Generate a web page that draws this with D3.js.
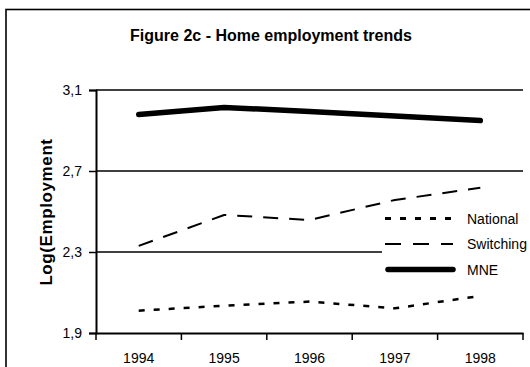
<!DOCTYPE html>
<html>
<head>
<meta charset="utf-8">
<script src="https://cdn.jsdelivr.net/npm/d3@7"></script>
<style>
  body { margin: 0; background: #fff; }
  svg { display: block; font-family: "Liberation Sans", Arial, sans-serif; }
</style>
</head>
<body>
<svg width="530" height="367"></svg>
<script>
// data
const years = ["1994", "1995", "1996", "1997", "1998"];
const national = [2.010, 2.035, 2.055, 2.022, 2.083];
const switching = [2.330, 2.483, 2.458, 2.557, 2.617];
const mne = [2.979, 3.014, 2.994, 2.972, 2.949];
const yTicks = [1.9, 2.3, 2.7, 3.1];
const seriesNames = ["National", "Switching", "MNE"];

const svg = d3.select("svg");
const margin = { top: 90, right: 7, bottom: 34, left: 96 };
const width = 530, height = 367;

// outer frame (runs off the right and bottom edge)
svg.append("rect")
  .attr("x", 6).attr("y", 9.5)
  .attr("width", 560).attr("height", 420)
  .attr("fill", "#fff")
  .attr("stroke", "#000")
  .attr("stroke-width", 1.6);

// title
svg.append("text")
  .attr("x", 271).attr("y", 41)
  .attr("text-anchor", "middle")
  .attr("font-size", 16)
  .attr("font-weight", "bold")
  .text("Figure 2c - Home employment trends");

// scales
const x = d3.scaleBand()
  .domain(years)
  .range([margin.left, width - margin.right]);

const y = d3.scaleLinear()
  .domain([1.9, 3.1])
  .range([height - margin.bottom, margin.top]);

const fmt = d => d3.format(".1f")(d).replace(".", ",");

// gridlines
svg.append("g")
  .selectAll("line")
  .data(yTicks.filter(d => d > 1.9))
  .join("line")
  .attr("x1", x.range()[0]).attr("x2", x.range()[1])
  .attr("y1", d => y(d)).attr("y2", d => y(d))
  .attr("stroke", "#000")
  .attr("stroke-width", 1.3);

// y axis
const yAxis = svg.append("g")
  .attr("transform", `translate(${margin.left},0)`)
  .call(d3.axisLeft(y).tickValues(yTicks).tickFormat(fmt).tickSize(7).tickPadding(7));
yAxis.select(".domain").attr("stroke-width", 2);
yAxis.selectAll(".tick line").attr("stroke-width", 1.5);
yAxis.selectAll("text").attr("font-size", 14).attr("font-family", "Liberation Sans, Arial, sans-serif");

// x axis: labels at band centres, ticks at band edges
const xAxis = svg.append("g")
  .attr("transform", `translate(0,${y(1.9)})`)
  .call(d3.axisBottom(x).tickSize(0).tickPadding(20));
xAxis.select(".domain").attr("stroke-width", 2);
xAxis.selectAll("text").attr("font-size", 14).attr("font-family", "Liberation Sans, Arial, sans-serif");

const edges = years.map(d => x(d)).concat([x.range()[1]]);
xAxis.selectAll(".edge")
  .data(edges)
  .join("line")
  .attr("class", "edge")
  .attr("x1", d => d).attr("x2", d => d)
  .attr("y1", 0).attr("y2", 7)
  .attr("stroke", "#000")
  .attr("stroke-width", 1.5);

// y axis title
svg.append("text")
  .attr("transform", `translate(52,212) rotate(-90)`)
  .attr("text-anchor", "middle")
  .attr("font-size", 17)
  .attr("font-weight", "bold")
  .style("letter-spacing", "0.6px")
  .text("Log(Employment");

// series styles
const styles = {
  National: { values: national, width: 2.5, dash: "6,9", cap: "butt" },
  Switching: { values: switching, width: 2, dash: "15,11", cap: "butt" },
  MNE: { values: mne, width: 5.5, dash: null, cap: "round" }
};

const line = d3.line()
  .x((d, i) => x(years[i]) + x.bandwidth() / 2)
  .y(d => y(d));

// legend box (covers the gridline)
const legend = svg.append("g");
legend.append("rect")
  .attr("x", 382).attr("y", 206)
  .attr("width", 148).attr("height", 76)
  .attr("fill", "#fff");

seriesNames.forEach(name => {
  const s = styles[name];
  svg.append("path")
    .datum(s.values)
    .attr("d", line)
    .attr("fill", "none")
    .attr("stroke", "#000")
    .attr("stroke-width", s.width)
    .attr("stroke-dasharray", s.dash)
    .attr("stroke-linecap", s.cap)
    .attr("stroke-linejoin", "round");
});

const rowY = d3.scalePoint().domain(seriesNames).range([218.5, 269.5]);
seriesNames.forEach(name => {
  const s = styles[name];
  legend.append("line")
    .attr("x1", name === "MNE" ? 388 : 385).attr("x2", 453)
    .attr("y1", rowY(name)).attr("y2", rowY(name))
    .attr("stroke", "#000")
    .attr("stroke-width", name === "National" ? 3 : s.width)
    .attr("stroke-dasharray", name === "Switching" ? "16,12" : s.dash)
    .attr("stroke-linecap", s.cap);
  legend.append("text")
    .attr("x", 467).attr("y", rowY(name) + 5)
    .attr("font-size", 14)
    .text(name);
});
</script>
</body>
</html>
